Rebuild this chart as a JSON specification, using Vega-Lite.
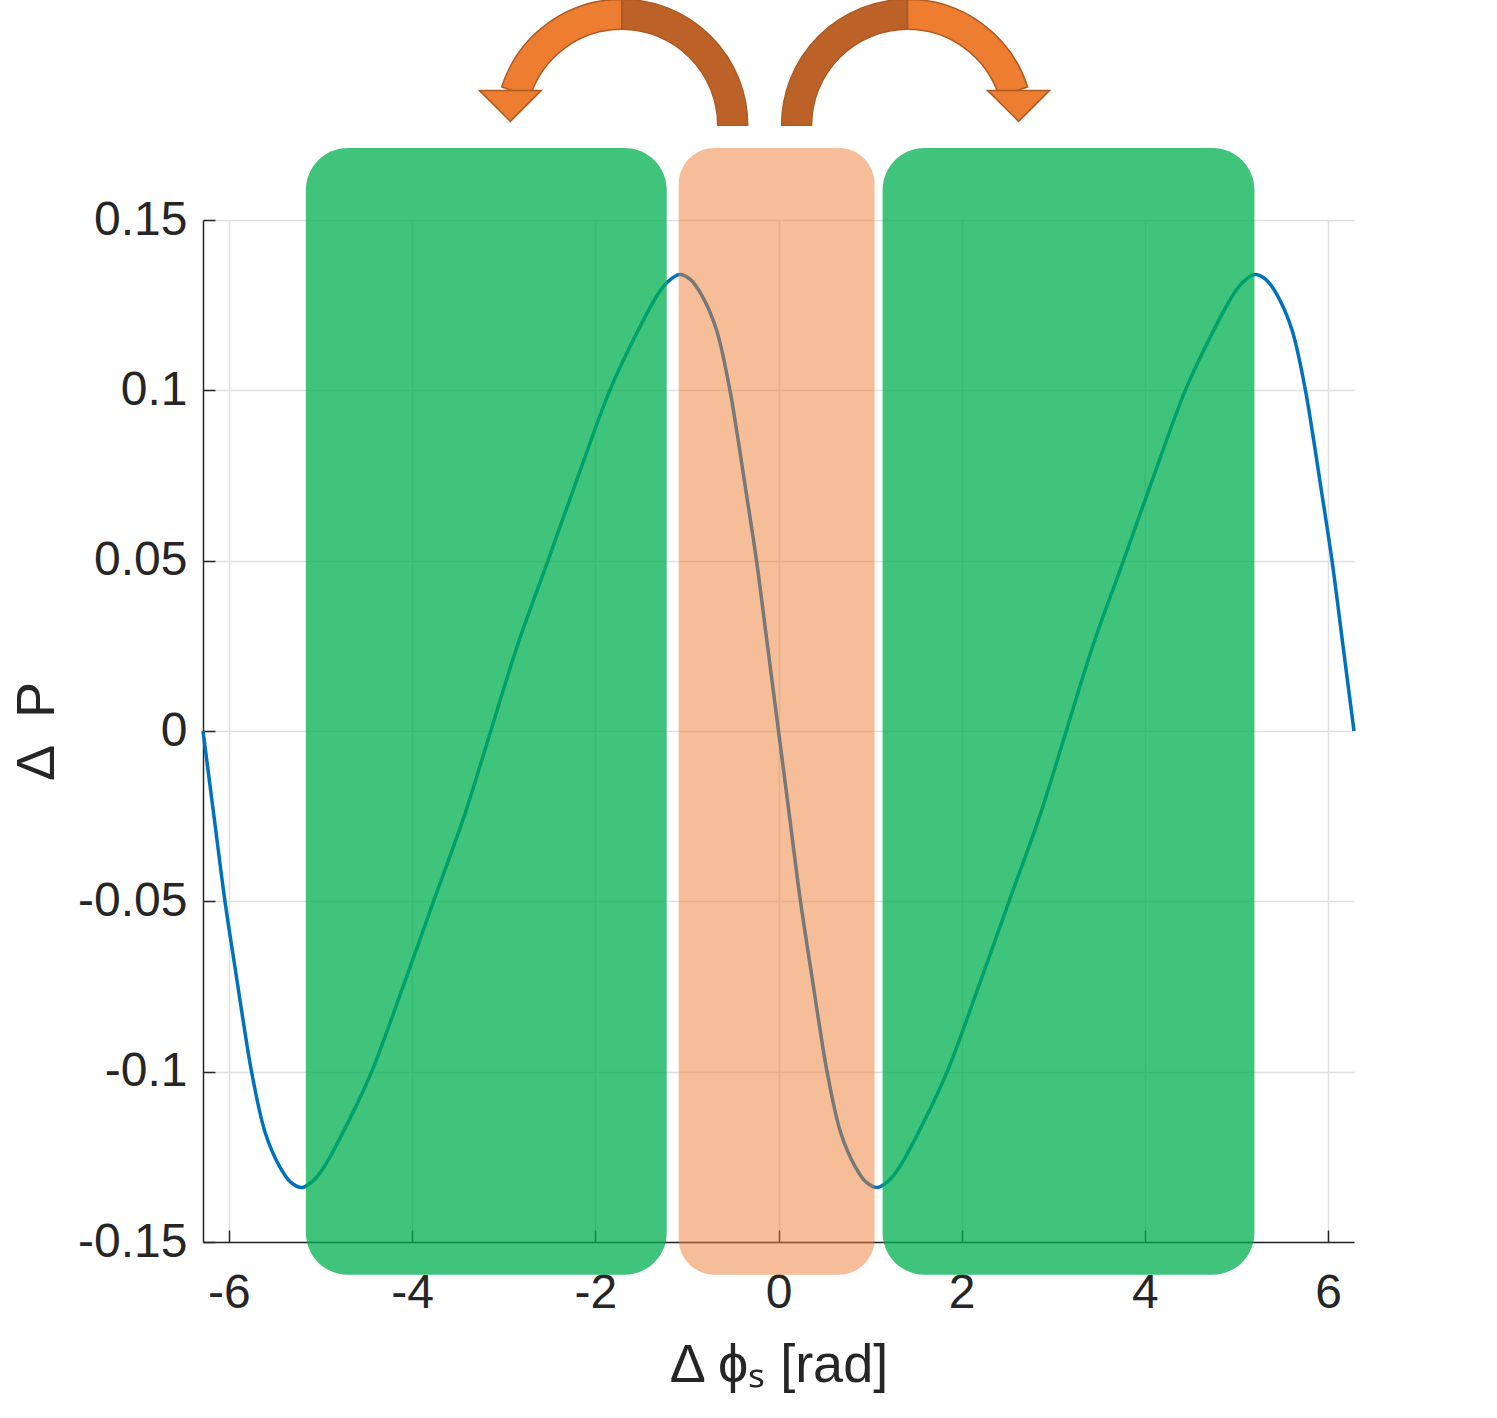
{
  "$schema": "https://vega.github.io/schema/vega-lite/v6.json",
  "width": 1151,
  "height": 1022,
  "autosize": {"type": "none"},
  "padding": {"left": 203, "top": 220, "right": 143, "bottom": 176},
  "background": "white",
  "config": {"view": {"stroke": null}, "font": "Liberation Sans"},
  "datasets": {
    "curve": [
      {"x": -6.2832, "y": 0}, {"x": -6.1632, "y": -0.025}, {"x": -6.0432, "y": -0.05},
      {"x": -5.9132, "y": -0.073}, {"x": -5.8332, "y": -0.087}, {"x": -5.7532, "y": -0.1},
      {"x": -5.6032, "y": -0.118}, {"x": -5.4432, "y": -0.128}, {"x": -5.3232, "y": -0.1325},
      {"x": -5.2016, "y": -0.134},
      {"x": -5.0716, "y": -0.1318}, {"x": -4.9616, "y": -0.128}, {"x": -4.7016, "y": -0.115},
      {"x": -4.4416, "y": -0.1}, {"x": -4.1116, "y": -0.076}, {"x": -3.7666, "y": -0.05},
      {"x": -3.4316, "y": -0.025}, {"x": -3.1416, "y": 0}, {"x": -2.8516, "y": 0.025},
      {"x": -2.5166, "y": 0.05}, {"x": -2.1716, "y": 0.076}, {"x": -1.8416, "y": 0.1},
      {"x": -1.5816, "y": 0.115}, {"x": -1.3216, "y": 0.128}, {"x": -1.2116, "y": 0.1318},
      {"x": -1.08, "y": 0.134},
      {"x": -0.96, "y": 0.1325}, {"x": -0.84, "y": 0.128}, {"x": -0.68, "y": 0.118},
      {"x": -0.53, "y": 0.1}, {"x": -0.45, "y": 0.087}, {"x": -0.37, "y": 0.073},
      {"x": -0.24, "y": 0.05}, {"x": -0.12, "y": 0.025}, {"x": 0, "y": 0},
      {"x": 0.12, "y": -0.025}, {"x": 0.24, "y": -0.05}, {"x": 0.37, "y": -0.073},
      {"x": 0.45, "y": -0.087}, {"x": 0.53, "y": -0.1}, {"x": 0.68, "y": -0.118},
      {"x": 0.84, "y": -0.128}, {"x": 0.96, "y": -0.1325}, {"x": 1.08, "y": -0.134},
      {"x": 1.2116, "y": -0.1318}, {"x": 1.3216, "y": -0.128}, {"x": 1.5816, "y": -0.115},
      {"x": 1.8416, "y": -0.1}, {"x": 2.1716, "y": -0.076}, {"x": 2.5166, "y": -0.05},
      {"x": 2.8516, "y": -0.025}, {"x": 3.1416, "y": 0}, {"x": 3.4316, "y": 0.025},
      {"x": 3.7666, "y": 0.05}, {"x": 4.1116, "y": 0.076}, {"x": 4.4416, "y": 0.1},
      {"x": 4.7016, "y": 0.115}, {"x": 4.9616, "y": 0.128}, {"x": 5.0716, "y": 0.1318},
      {"x": 5.2016, "y": 0.134},
      {"x": 5.3232, "y": 0.1325}, {"x": 5.4432, "y": 0.128}, {"x": 5.6032, "y": 0.118},
      {"x": 5.7532, "y": 0.1}, {"x": 5.8332, "y": 0.087}, {"x": 5.9132, "y": 0.073},
      {"x": 6.0432, "y": 0.05}, {"x": 6.1632, "y": 0.025}, {"x": 6.2832, "y": 0}
    ],
    "bands": [
      {"kind": "stable", "x": -5.16, "x2": -1.2205, "y": 0.1711, "y2": -0.1596},
      {"kind": "unstable", "x": -1.0897, "x2": 1.0492, "y": 0.1711, "y2": -0.1596},
      {"kind": "stable", "x": 1.1365, "x2": 5.196, "y": 0.1711, "y2": -0.1596}
    ],
    "arcs": [
      {"side": "left", "x": -1.7116, "y": 0.1778},
      {"side": "right", "x": 1.4093, "y": 0.1778}
    ],
    "heads": [
      {"side": "left", "x": -2.928, "y": 0.1835},
      {"side": "right", "x": 2.621, "y": 0.1835}
    ]
  },
  "encoding": {
    "x": {
      "field": "x", "type": "quantitative",
      "scale": {"domain": [-6.2832, 6.2832], "nice": false, "zero": false},
      "axis": {
        "values": [-6, -4, -2, 0, 2, 4, 6],
        "title": "Δ ϕₛ [rad]",
        "labelExpr": "'' + datum.value",
        "labelFontSize": 48, "labelColor": "#262626", "labelPadding": 39,
        "labelFlush": false, "labelOverlap": false, "labelBound": false,
        "tickSize": -12, "tickColor": "#262626", "tickWidth": 1.5,
        "domainColor": "#262626", "domainWidth": 1.5,
        "grid": true, "gridColor": "#E0E0E0", "gridWidth": 1.5,
        "titleFontSize": 54, "titleFontWeight": "normal", "titleColor": "#262626",
        "titleY": 139, "titleBaseline": "alphabetic"
      }
    },
    "y": {
      "field": "y", "type": "quantitative",
      "scale": {"domain": [-0.15, 0.15], "nice": false, "zero": false},
      "axis": {
        "values": [-0.15, -0.1, -0.05, 0, 0.05, 0.1, 0.15],
        "title": "Δ\u2002P",
        "labelExpr": "'' + datum.value",
        "labelFontSize": 48, "labelColor": "#262626", "labelPadding": 28,
        "labelFlush": false, "labelOverlap": false, "labelBound": false,
        "tickSize": -12, "tickColor": "#262626", "tickWidth": 1.5,
        "domainColor": "#262626", "domainWidth": 1.5,
        "grid": true, "gridColor": "#E0E0E0", "gridWidth": 1.5,
        "titleFontSize": 54, "titleFontWeight": "normal", "titleColor": "#262626",
        "titleX": -166, "titleY": 511, "titleAngle": -90, "titleBaseline": "middle", "titleAlign": "center"
      }
    }
  },
  "layer": [
    {
      "data": {"name": "curve"},
      "mark": {"type": "line", "color": "#0072BD", "strokeWidth": 3.5, "interpolate": "catmull-rom"}
    },
    {
      "data": {"name": "bands"},
      "transform": [{"filter": "datum.kind === 'stable'"}],
      "mark": {"type": "rect", "cornerRadius": 42, "fill": "#00B050", "fillOpacity": 0.75, "clip": false},
      "encoding": {"x2": {"field": "x2"}, "y2": {"field": "y2"}}
    },
    {
      "data": {"name": "bands"},
      "transform": [{"filter": "datum.kind === 'unstable'"}],
      "mark": {"type": "rect", "cornerRadius": 36, "fill": "#ED7D31", "fillOpacity": 0.5, "clip": false},
      "encoding": {"x2": {"field": "x2"}, "y2": {"field": "y2"}}
    },
    {
      "data": {"name": "arcs"},
      "transform": [{"filter": "datum.side === 'left'"}],
      "mark": {"type": "arc", "theta": 0, "theta2": 1.5708, "radius": 126, "radius2": 96, "fill": "#BC6127", "stroke": "#AE5A21", "strokeWidth": 1.5}
    },
    {
      "data": {"name": "arcs"},
      "transform": [{"filter": "datum.side === 'left'"}],
      "mark": {"type": "arc", "theta": -1.262, "theta2": 0, "radius": 126, "radius2": 96, "fill": "#ED7D31", "stroke": "#AE5A21", "strokeWidth": 1.5}
    },
    {
      "data": {"name": "arcs"},
      "transform": [{"filter": "datum.side === 'right'"}],
      "mark": {"type": "arc", "theta": -1.5708, "theta2": 0, "radius": 126, "radius2": 96, "fill": "#BC6127", "stroke": "#AE5A21", "strokeWidth": 1.5}
    },
    {
      "data": {"name": "arcs"},
      "transform": [{"filter": "datum.side === 'right'"}],
      "mark": {"type": "arc", "theta": 0, "theta2": 1.262, "radius": 126, "radius2": 96, "fill": "#ED7D31", "stroke": "#AE5A21", "strokeWidth": 1.5}
    },
    {
      "data": {"name": "heads"},
      "mark": {"type": "point", "shape": "M-1,-0.5L1,-0.5L0,0.5Z", "size": 3844, "filled": true, "fill": "#ED7D31", "stroke": "#AE5A21", "strokeWidth": 1.5, "opacity": 1}
    }
  ]
}
